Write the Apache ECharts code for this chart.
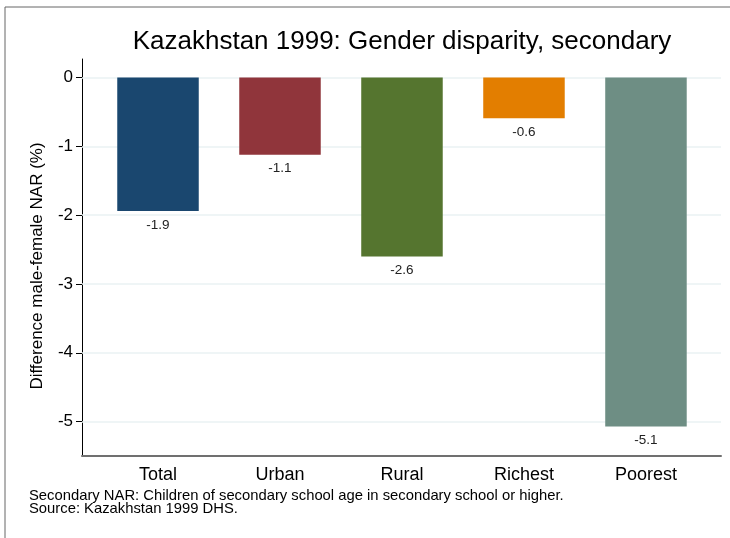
<!DOCTYPE html>
<html><head><meta charset="utf-8">
<script src="https://cdn.jsdelivr.net/npm/echarts@6/dist/echarts.min.js"></script>
<style>html,body{margin:0;padding:0;background:#fff}#c{width:730px;height:538px}</style>
</head><body><div id="c"></div>
<script>
const categories = ["Total", "Urban", "Rural", "Richest", "Poorest"];
const values = [-1.94, -1.12, -2.60, -0.59, -5.07];
const colors = ["#1a476f", "#90353b", "#55752f", "#e37e00", "#6e8e84"];
const yTicks = [0, -1, -2, -3, -4, -5];
const titleText = "Kazakhstan 1999: Gender disparity, secondary";
const yTitle = "Difference male-female NAR (%)";
const notes = "Secondary NAR: Children of secondary school age in secondary school or higher.\nSource: Kazakhstan 1999 DHS.";

const FONT = "Liberation Sans, Arial, Helvetica, sans-serif";
const chart = echarts.init(document.getElementById('c'), null, {renderer: 'canvas'});
const option = {
  animation: false,
  backgroundColor: '#fff',
  grid: {left: 82, top: 59, right: 9, bottom: 82, containLabel: false},
  xAxis: {
    type: 'value', min: -0.623, max: 4.615,
    axisLine: {show: true, onZero: false, lineStyle: {color: '#707070', width: 2}},
    axisTick: {show: false},
    splitLine: {show: false},
    axisLabel: {
      customValues: categories.map((c, i) => i),
      formatter: v => categories[Math.round(v)] || '',
      fontSize: 18, color: '#000', fontFamily: FONT, margin: 10
    }
  },
  yAxis: {
    type: 'value', min: -5.5, max: 0.27,
    axisLine: {show: true, onZero: false, lineStyle: {color: '#000', width: 1}},
    axisTick: {show: true, length: 6, customValues: yTicks, lineStyle: {color: '#000'}},
    splitLine: {show: false},
    axisLabel: {customValues: yTicks, fontSize: 17, color: '#000', fontFamily: FONT, margin: 9,
      formatter: v => String(v)}
  },
  graphic: [
    {type: 'rect', shape: {x: 5, y: 7, width: 740, height: 560}, style: {fill: 'none', stroke: '#666', lineWidth: 1}, z: 0},
    {type: 'text', x: 402, y: 42, style: {text: titleText, fontSize: 26, fontFamily: FONT, fill: '#000', textAlign: 'center', textVerticalAlign: 'middle'}},
    {type: 'text', x: 37, y: 266, rotation: Math.PI / 2, style: {text: yTitle, fontSize: 17, fontFamily: FONT, fill: '#000', textAlign: 'center', textVerticalAlign: 'middle'}},
    {type: 'text', x: 29, y: 489, style: {text: notes, fontSize: 14.8, lineHeight: 13, fontFamily: FONT, fill: '#000', textAlign: 'left', textVerticalAlign: 'top'}}
  ],
  series: [
    {
      type: 'line', data: [], z: 1, silent: true,
      markLine: {
        silent: true, symbol: 'none', z: 1, animation: false,
        label: {show: false},
        lineStyle: {color: '#eaf2f3', width: 1.5, type: 'solid'},
        data: yTicks.map(v => ({yAxis: v}))
      }
    },
    {
      type: 'bar', z: 3, barWidth: 81.5,
      data: values.map((v, i) => ({value: [i, v], itemStyle: {color: colors[i]}})),
      label: {show: true, position: 'bottom', distance: 7, fontSize: 13.5, fontFamily: FONT, color: '#222',
        formatter: p => p.value[1].toFixed(1)}
    }
  ]
};
chart.setOption(option);
</script></body></html>
